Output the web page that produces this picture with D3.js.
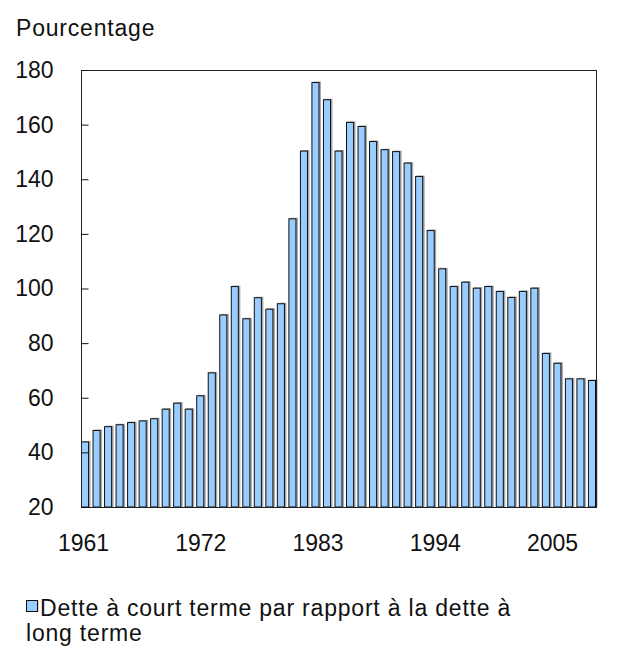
<!DOCTYPE html>
<html>
<head>
<meta charset="utf-8">
<script src="https://cdn.jsdelivr.net/npm/d3@7"></script>
<style>
  html, body { margin: 0; padding: 0; background: #fff; }
  svg { display: block; }
  text { font-family: "Liberation Sans", Arial, sans-serif; fill: #111; }
</style>
</head>
<body>
<svg id="chart" width="624" height="652"></svg>
<script>
// Short-term debt as a share of long-term debt, 1961–2005
const years = d3.range(1961, 2006);
const ratios = [
  44.0, 48.2, 49.6, 50.3, 51.1, 51.7, 52.5, 56.0, 58.2, 56.0,
  60.9, 69.3, 90.5, 100.9, 89.1, 96.8, 92.6, 94.6, 125.7, 150.5,
  175.6, 169.3, 150.5, 161.0, 159.5, 154.0, 151.0, 150.3, 146.1, 141.2,
  121.4, 107.4, 100.9, 102.5, 100.3, 100.9, 99.1, 96.9, 99.1, 100.3,
  76.4, 72.8, 67.1, 67.1, 66.5
];
const yTicks = [20, 40, 60, 80, 100, 120, 140, 160, 180];
const xTickYears = [1961, 1972, 1983, 1994, 2005];
const yTitle = "Pourcentage";
const legendLines = ["Dette à court terme par rapport à la dette à", "long terme"];

const data = years.map((y, i) => ({ year: y, value: ratios[i] }));

const svg = d3.select("#chart");
const plot = { left: 81, top: 70, right: 596, bottom: 507 };
const barFill = "#99ccff";
const fontSize = 23;

const x = d3.scaleBand()
  .domain(years)
  .range([plot.left, plot.right])
  .paddingInner(0.3)
  .paddingOuter(0.0);

const y = d3.scaleLinear()
  .domain([20, 180])
  .range([plot.bottom, plot.top]);

// Year labels sit on an evenly spaced scale under the bars
const xLabel = d3.scaleLinear()
  .domain([1961, 2005])
  .range([83, 552]);

// Bars with a soft grey drop shadow
const bars = svg.append("g");
bars.selectAll("rect.shadow")
  .data(data)
  .join("rect")
  .attr("class", "shadow")
  .attr("x", d => x(d.year) + 1.5)
  .attr("y", d => y(d.value) - 0.5)
  .attr("width", x.bandwidth())
  .attr("height", d => y(20) - y(d.value) + 0.5)
  .attr("fill", "#a8a8a8");

bars.selectAll("rect.bar")
  .data(data)
  .join("rect")
  .attr("class", "bar")
  .attr("x", d => x(d.year) + 0.5)
  .attr("y", d => y(d.value) + 0.5)
  .attr("width", x.bandwidth() - 1)
  .attr("height", d => y(20) - y(d.value) - 0.5)
  .attr("fill", barFill)
  .attr("stroke", "#111")
  .attr("stroke-width", 1);

// Plot frame
svg.append("rect")
  .attr("x", plot.left + 0.5)
  .attr("y", plot.top + 0.5)
  .attr("width", plot.right - plot.left)
  .attr("height", plot.bottom - plot.top)
  .attr("fill", "none")
  .attr("stroke", "#222")
  .attr("stroke-width", 1);

// Left axis: inward ticks, labels right-aligned
const yAxis = d3.axisLeft(y)
  .tickValues(yTicks)
  .tickSize(-7)
  .tickPadding(28)
  .tickFormat(d3.format("d"));

const yg = svg.append("g")
  .attr("transform", `translate(${plot.left + 0.5},0)`)
  .call(yAxis);
yg.select(".domain").remove();
yg.selectAll(".tick line").attr("stroke", "#111");
yg.selectAll(".tick text")
  .attr("font-size", fontSize)
  .attr("font-family", "Liberation Sans, Arial, sans-serif")
  .attr("fill", "#111");

// Year labels
const xg = svg.append("g")
  .attr("transform", `translate(0,${plot.bottom})`)
  .call(d3.axisBottom(xLabel).tickValues(xTickYears).tickSize(0).tickPadding(28).tickFormat(d3.format("d")));
xg.select(".domain").remove();
xg.selectAll(".tick text")
  .attr("font-size", fontSize)
  .attr("font-family", "Liberation Sans, Arial, sans-serif")
  .attr("fill", "#111");

// Axis title
svg.append("text")
  .attr("x", 16)
  .attr("y", 36)
  .attr("font-size", fontSize)
  .attr("letter-spacing", 0.8)
  .text(yTitle);

// Legend
const lg = svg.append("g").attr("transform", "translate(26,600)");
lg.append("rect")
  .attr("x", 1.5).attr("y", 0.5)
  .attr("width", 11).attr("height", 11)
  .attr("fill", "#a8a8a8");
lg.append("rect")
  .attr("x", 0.5).attr("y", 0.5)
  .attr("width", 11).attr("height", 11)
  .attr("fill", barFill)
  .attr("stroke", "#111");
lg.selectAll("text.legend")
  .data(legendLines)
  .join("text")
  .attr("class", "legend")
  .attr("x", (d, i) => i === 0 ? 14 : 0)
  .attr("y", (d, i) => 16 + i * 25)
  .attr("font-size", fontSize)
  .attr("letter-spacing", 0.8)
  .text(d => d);
</script>
</body>
</html>
